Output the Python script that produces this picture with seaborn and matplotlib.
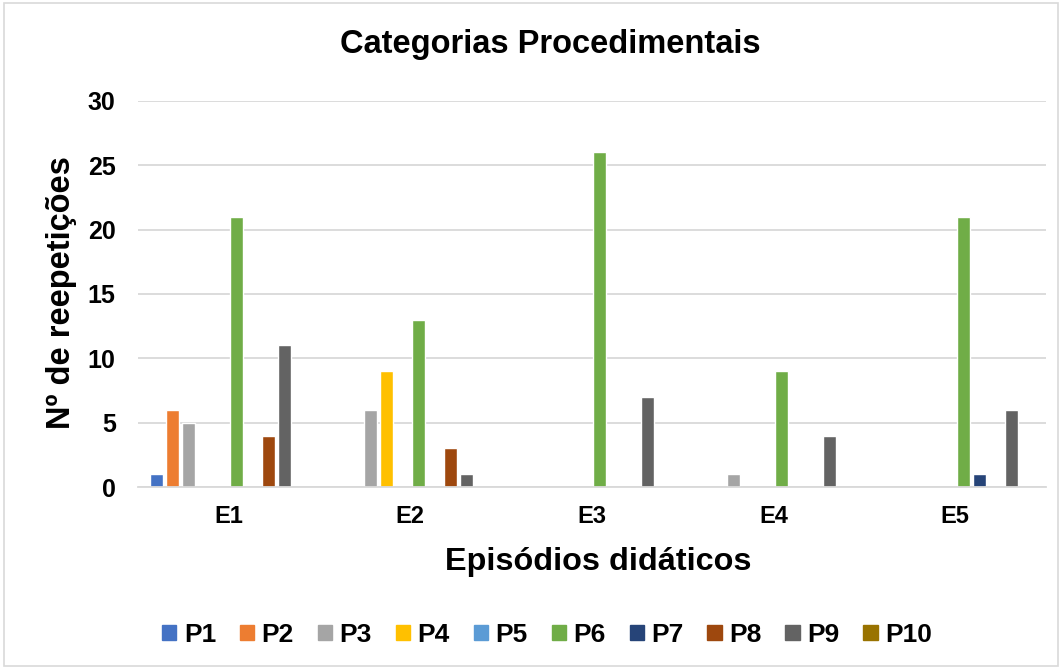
import matplotlib.pyplot as plt
import matplotlib.patches as mpatches
import pandas as pd
import seaborn as sns

# Data
episodes = ['E1', 'E2', 'E3', 'E4', 'E5']
categories = ['P1', 'P2', 'P3', 'P4', 'P5', 'P6', 'P7', 'P8', 'P9', 'P10']
values = {
    'P1': [1, 0, 0, 0, 0],
    'P2': [6, 0, 0, 0, 0],
    'P3': [5, 6, 0, 1, 0],
    'P4': [0, 9, 0, 0, 0],
    'P5': [0, 0, 0, 0, 0],
    'P6': [21, 13, 26, 9, 21],
    'P7': [0, 0, 0, 0, 1],
    'P8': [4, 3, 0, 0, 0],
    'P9': [11, 1, 7, 4, 6],
    'P10': [0, 0, 0, 0, 0],
}
colors = ['#4472C4', '#ED7D31', '#A5A5A5', '#FFC000', '#5B9BD5',
          '#70AD47', '#264478', '#9E480E', '#636363', '#997300']

rows = []
for cat in categories:
    for ep, v in zip(episodes, values[cat]):
        rows.append({'Episódio': ep, 'Categoria': cat, 'Valor': v})
df = pd.DataFrame(rows)

sns.set_style('white')
plt.rcParams['font.family'] = ['Liberation Sans', 'DejaVu Sans']
plt.rcParams['font.weight'] = 'bold'
plt.rcParams['text.color'] = 'black'
plt.rcParams['xtick.color'] = 'black'
plt.rcParams['ytick.color'] = 'black'

fig = plt.figure(figsize=(10.62, 6.69), dpi=100)
ax = fig.add_axes([0.1299, 0.2720, 0.855, 0.5774])

sns.barplot(data=df, x='Episódio', y='Valor', hue='Categoria', order=episodes,
            hue_order=categories, palette=colors, saturation=1, width=0.88, gap=0.19,
            legend=False, ax=ax)

ax.set_xlim(-0.5, 4.5)
ax.set_ylim(0, 30)
ax.set_yticks(range(0, 31, 5))
ax.yaxis.grid(True, color='#D9D9D9', linewidth=1.3)
ax.set_axisbelow(True)
for s in ['top', 'right', 'left']:
    ax.spines[s].set_visible(False)
ax.spines['bottom'].set_color('#D9D9D9')
ax.spines['bottom'].set_linewidth(1.3)
ax.tick_params(axis='x', length=0, labelsize=17, pad=13)
ax.tick_params(axis='y', length=0, labelsize=18, pad=16)
for lbl in ax.get_xticklabels() + ax.get_yticklabels():
    lbl.set_fontweight('bold')
ax.set_xlabel('')
ax.set_ylabel('')

fig.text(550 / 1062, 1 - 53 / 669, 'Categorias Procedimentais', ha='center', va='baseline',
         fontsize=23.5, fontweight='bold')
fig.text(598 / 1062, 1 - 570 / 669, 'Episódios didáticos', ha='center', va='baseline',
         fontsize=23.3, fontweight='bold')
fig.text(62 / 1062, 0.563, 'Nº de reepetições', ha='center', va='center', rotation=90,
         fontsize=23.5, fontweight='bold')

handles = [mpatches.Patch(color=c, label=l) for c, l in zip(colors, categories)]
fig.legend(handles=handles, loc='center', bbox_to_anchor=(547 / 1062, 0.051), ncol=10,
           frameon=False, prop={'size': 19, 'weight': 'bold'},
           handlelength=0.55, handleheight=0.55, handletextpad=0.28, columnspacing=0.9)

fig.patches.append(mpatches.Rectangle((0.004, 0.004), 0.992, 0.992, transform=fig.transFigure,
                                      fill=False, edgecolor='#D9D9D9', linewidth=1.2))

fig.savefig('out.png', dpi=100)
